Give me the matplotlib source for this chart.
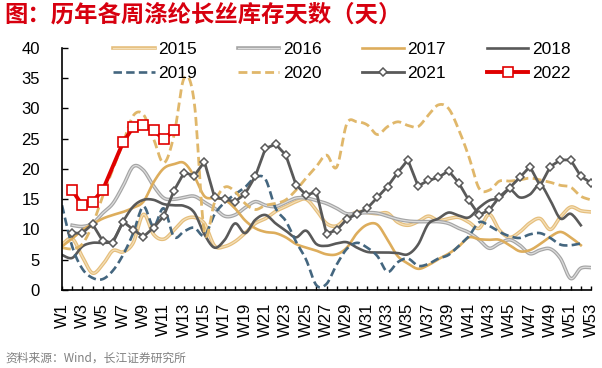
import numpy as np
import matplotlib
matplotlib.use("Agg")
import matplotlib.pyplot as plt
import matplotlib.patheffects as pe

plt.rcParams['font.family'] = ['Liberation Sans', 'Noto Sans CJK SC', 'DejaVu Sans']

weeks = list(range(1, 54))
week_labels = [f"W{w}" if w % 2 == 1 else "" for w in weeks]
N = None

y2015 = [7.5, 8.5, 5.5, 2.8, 4.2, 6.5, 6.3, 7.8, 12.5, 9.2, 8.4, 9.9, 11.6, 12.0, 11.0, 7.3, 7.2, 8.0,
         9.4, 11.0, 11.8, 13.0, 13.8, 14.6, 15.0, 13.2, 11.0, 10.6, 12.0, 12.9, 12.8, 12.6, 12.7, 11.2,
         10.7, 11.3, 12.2, 11.5, 11.8, 12.0, 11.2, 10.2, 12.5, 9.9, 8.7, 9.6, 11.1, 11.8, 10.0, 12.1,
         13.7, 13.1, 12.9]
y2016 = [N, 10.7, 10.5, 11.0, 12.7, 14.3, 17.2, 20.4, 19.8, 17.2, 15.2, 15.0, 15.3, 15.5, 14.5, 13.5,
         12.2, 12.4, 13.6, 14.6, 14.0, 13.8, 14.5, 15.2, 15.2, 14.8, 14.3, 13.5, 12.6, 12.7, 12.8, 12.7,
         12.2, 11.7, 11.4, 11.3, 11.3, 11.3, 11.0, 10.2, 9.5, 8.3, 6.9, 7.7, 8.3, 7.4, 6.0, 6.6, 6.8, 5.2,
         1.9, 3.6, 3.7]
y2017 = [7.2, 8.5, 9.9, 10.9, 11.8, 12.4, 12.9, 13.6, 14.6, 17.8, 20.1, 20.8, 21.0, 18.8, 15.5, 15.2,
         14.9, 13.5, 11.5, 10.2, 9.6, 9.4, 8.7, 7.6, 7.0, 6.5, 5.9, 5.9, 7.0, 9.4, 10.8, 10.8, 8.3, 5.6,
         4.4, 3.5, 4.1, 5.1, 6.0, 7.2, 8.7, 8.4, 8.3, 8.3, 7.4, 6.4, 6.6, 7.6, 8.8, 9.6, 8.7, 7.4, N]
y2018 = [5.8, 5.3, 7.2, 7.8, 7.8, 8.2, 11.3, 13.8, 14.9, 14.9, 14.2, 14.0, 13.9, 12.8, 9.2, 7.0, 8.3,
         11.0, 9.4, 11.6, 12.4, 11.0, 9.8, 8.7, 9.8, 7.6, 7.3, 7.7, 7.9, 7.0, 6.3, 6.2, 6.2, 6.1, 5.9,
         7.5, 10.9, 11.8, 12.8, 12.3, 12.0, 13.6, 14.8, 15.2, 16.6, 15.3, 15.8, 17.4, 14.8, 11.8, 12.6,
         10.7, N]
y2019 = [14.0, 7.2, 3.5, 2.0, 1.8, 3.2, 5.8, 9.4, 13.8, 10.5, 13.5, 8.8, 9.7, 10.3, 9.0, 12.5, 14.5,
         15.8, 17.0, 18.6, 18.3, 13.5, 11.4, 8.0, 5.0, 0.8, 1.0, 4.2, 6.8, 7.8, 7.0, 5.6, 3.0, 4.6, 5.2,
         4.0, 4.3, 5.2, 5.8, 7.3, 8.9, 11.2, 10.6, 9.6, 8.9, 8.6, 9.2, 9.4, 8.6, 7.5, 7.4, 7.7, N]
y2020 = [7.0, 6.8, 7.6, 10.8, 15.5, 20.0, 24.3, 28.8, 29.0, 25.0, 21.0, 25.5, 35.0, 31.0, 9.5, 14.5,
         17.0, 16.3, 14.3, 13.3, 14.0, 14.3, 14.9, 16.5, 18.5, 20.4, 22.3, 20.3, 27.5, 27.8, 27.3, 25.7,
         27.0, 27.8, 27.2, 27.0, 28.9, 30.6, 30.0, 26.5, 22.0, 16.8, 16.5, 18.0, 18.0, 18.2, 18.5, 18.2,
         17.8, 17.3, 17.0, 15.5, 14.9]
y2021 = [N, 9.4, 9.4, 10.9, 8.1, 7.8, 11.3, 10.0, 8.8, 10.3, 12.2, 16.4, 19.4, 18.9, 21.2, 15.3, 15.0,
         14.6, 15.9, 18.8, 23.4, 24.1, 22.3, 17.4, 15.7, 16.2, 9.3, 9.9, 11.7, 12.6, 13.5, 15.3, 17.1,
         19.4, 21.5, 17.2, 18.1, 18.6, 19.7, 17.7, 14.8, 12.4, 13.2, 15.4, 16.9, 18.6, 20.4, 17.2, 20.4,
         21.5, 21.5, 18.8, 17.7]
y2022 = [N, 16.5, 14.0, 14.6, 16.5, N, 24.4, 26.9, 27.2, 26.4, 24.9, 26.4] + [N] * 41


def valid(vals):
    x = np.array([w for w, v in zip(weeks, vals) if v is not None], float)
    y = np.array([v for v in vals if v is not None], float)
    return x, y


def smooth(vals, n=12):
    x, y = valid(vals)
    xp = np.concatenate([[x[0]], x, [x[-1]]])
    yp = np.concatenate([[y[0]], y, [y[-1]]])
    xs, ys = [], []
    t = np.linspace(0, 1, n, endpoint=False)
    for i in range(1, len(xp) - 2):
        p0, p1, p2, p3 = [np.array([xp[j], yp[j]]) for j in (i - 1, i, i + 1, i + 2)]
        c1 = p1 + (p2 - p0) / 6.0
        c2 = p2 - (p3 - p1) / 6.0
        pts = ((1 - t) ** 3)[:, None] * p1 + (3 * (1 - t) ** 2 * t)[:, None] * c1 + \
              (3 * (1 - t) * t ** 2)[:, None] * c2 + (t ** 3)[:, None] * p2
        xs.append(pts[:, 0]); ys.append(pts[:, 1])
    xs.append([x[-1]]); ys.append([y[-1]])
    return np.concatenate(xs), np.concatenate(ys)


fig = plt.figure(figsize=(6.02, 3.68), dpi=100)
ax = fig.add_axes([62 / 602, 1 - 290 / 368, (591 - 62) / 602, (290 - 48) / 368])

dash = (0, (3.2, 1.6))
H = {}

sx, sy = smooth(y2015)
H['2015'], = ax.plot(sx, sy, color='#F4DFB8', lw=0.9, label='2015',
                     path_effects=[pe.Stroke(linewidth=2.6, foreground='#E5BE7C'), pe.Normal()])
sx, sy = smooth(y2016)
H['2016'], = ax.plot(sx, sy, color='#DCDCDC', lw=0.9, label='2016',
                     path_effects=[pe.Stroke(linewidth=2.6, foreground='#A5A5A5'), pe.Normal()])
sx, sy = smooth(y2017)
H['2017'], = ax.plot(sx, sy, color='#DDAD5C', lw=1.9, label='2017')
sx, sy = smooth(y2018)
H['2018'], = ax.plot(sx, sy, color='#595959', lw=1.9, label='2018')
sx, sy = smooth(y2019)
H['2019'], = ax.plot(sx, sy, color='#44667F', lw=1.9, ls=dash, label='2019')
sx, sy = smooth(y2020)
H['2020'], = ax.plot(sx, sy, color='#E0B76A', lw=2.0, ls=dash, label='2020')
x21, v21 = valid(y2021)
H['2021'], = ax.plot(x21, v21, color='#595959', lw=2.0, marker='D', markersize=4,
                     markerfacecolor='white', markeredgecolor='#595959', markeredgewidth=1.1,
                     label='2021')
x22, v22 = valid(y2022)
H['2022'], = ax.plot(x22, v22, color='#E00000', lw=2.8, marker='s', markersize=6.5,
                     markerfacecolor='white', markeredgecolor='#E00000', markeredgewidth=1.2,
                     label='2022', zorder=5)

ax.set_xlim(1, 53)
ax.set_ylim(0, 40)
ax.set_yticks(range(0, 41, 5))
ax.set_xticks(weeks)
ax.set_xticklabels(week_labels, rotation=90, fontsize=12)
ax.tick_params(axis='y', direction='in', length=4, width=1, labelsize=12, pad=16)
ax.tick_params(axis='x', direction='in', length=3, width=1, pad=9)
for s in ('top', 'right'):
    ax.spines[s].set_visible(False)
for s in ('left', 'bottom'):
    ax.spines[s].set_linewidth(1.2)
    ax.spines[s].set_color('black')

order = ['2015', '2019', '2016', '2020', '2017', '2021', '2018', '2022']
leg = ax.legend(handles=[H[k] for k in order], ncol=4, loc='upper left',
                bbox_to_anchor=(44 / 529, 1.055),
                frameon=False, fontsize=12.5, handlelength=2.4, handletextpad=0.2,
                columnspacing=2.35, labelspacing=0.5, borderaxespad=0)

fig.text(4 / 602, 1 - 15 / 368, '图：历年各周涤纶长丝库存天数（天）', color='#D7000F', fontsize=16.8,
         fontweight='bold', va='center', ha='left', family=['Noto Sans CJK SC', 'DejaVu Sans'])
fig.text(5 / 602, 1 - 358 / 368, '资料来源：Wind，长江证券研究所', color='#808080', fontsize=8.5,
         va='center', ha='left', family=['Noto Sans CJK SC', 'DejaVu Sans'])

fig.savefig('out.png', dpi=100)
